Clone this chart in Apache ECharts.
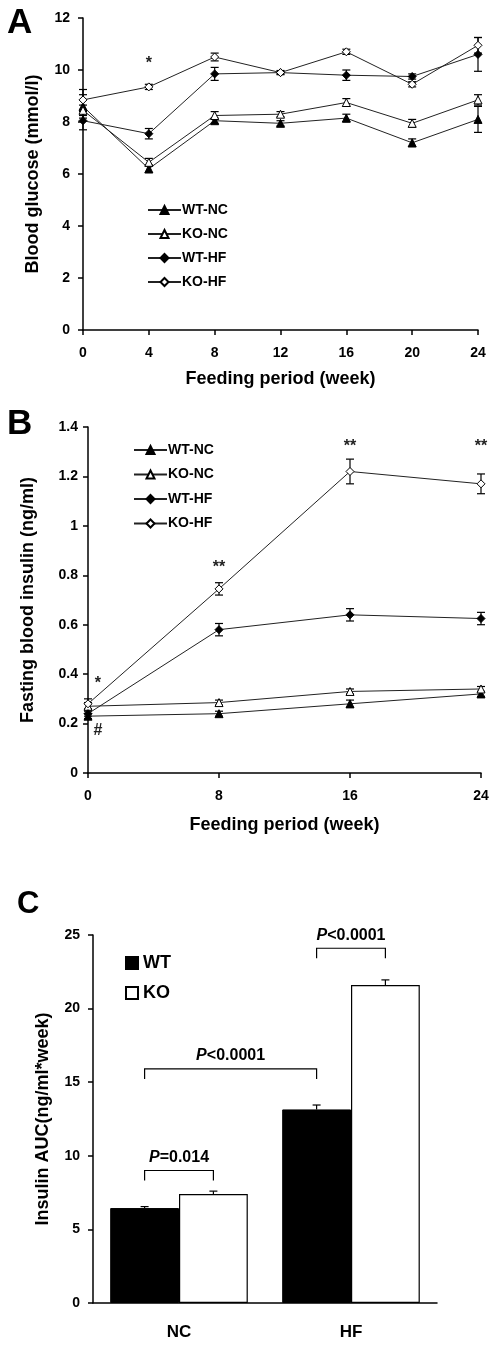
<!DOCTYPE html>
<html>
<head>
<meta charset="utf-8">
<script src="https://cdn.jsdelivr.net/npm/echarts@6/dist/echarts.min.js"></script>
<style>html,body{margin:0;padding:0;background:#fff}#c{width:498px;height:1345px}</style>
</head>
<body>
<div id="c"></div>
<script>
// ---------- Panel A: blood glucose ----------
const weeksA = [0, 4, 8, 12, 16, 20, 24];
const glucoseWTNC = [8.6, 6.2, 8.05, 7.95, 8.15, 7.2, 8.1];
const glucoseKONC = [8.45, 6.45, 8.25, 8.3, 8.75, 7.95, 8.85];
const glucoseWTHF = [8.05, 7.55, 9.85, 9.9, 9.8, 9.75, 10.6];
const glucoseKOHF = [8.85, 9.35, 10.5, 9.9, 10.7, 9.45, 10.95];
const glucoseErrWTNC = [0.45, 0.15, 0.1, 0.1, 0.15, 0.15, 0.5];
const glucoseErrKONC = [0.2, 0.15, 0.15, 0.1, 0.15, 0.15, 0.2];
const glucoseErrWTHF = [0.35, 0.2, 0.25, 0.08, 0.2, 0.1, 0.65];
const glucoseErrKOHF = [0.4, 0.1, 0.15, 0.05, 0.1, 0.1, 0.3];
const annotAX = [4];
const annotAY = [10.25];
const annotAText = ['*'];

// ---------- Panel B: fasting insulin ----------
const weeksB = [0, 8, 16, 24];
const insulinWTNC = [0.23, 0.24, 0.28, 0.32];
const insulinKONC = [0.27, 0.285, 0.33, 0.34];
const insulinWTHF = [0.24, 0.58, 0.64, 0.625];
const insulinKOHF = [0.28, 0.745, 1.22, 1.17];
const insulinErrWTNC = [0.01, 0.01, 0.015, 0.01];
const insulinErrKONC = [0.015, 0.01, 0.01, 0.01];
const insulinErrWTHF = [0.01, 0.025, 0.025, 0.025];
const insulinErrKOHF = [0.02, 0.025, 0.05, 0.04];
const annotBX = [0.6, 0.6, 8, 16, 24];
const annotBY = [0.36, 0.17, 0.83, 1.32, 1.32];
const annotBText = ['*', '#', '**', '**', '**'];

// ---------- Panel C: insulin AUC ----------
const groupsC = ['NC', 'HF'];
const aucWT = [6.45, 13.15];
const aucKO = [7.4, 21.6];
const aucErrWT = [0.1, 0.3];
const aucErrKO = [0.2, 0.35];
// brackets: [category, bar(0=WT,1=KO)] from -> to, height (value), label
const bracketFromCat = [0, 0, 1];
const bracketFromBar = [0, 0, 0];
const bracketToCat = [0, 1, 1];
const bracketToBar = [1, 0, 1];
const bracketY = [9.0, 15.9, 24.1];
const bracketP = ['=0.014', '<0.0001', '<0.0001'];

const seriesNames = ['WT-NC', 'KO-NC', 'WT-HF', 'KO-HF'];

const FONT = 'Liberation Sans, Arial, sans-serif';
const BAR_GAP_FRAC = 0.2;

const chart = echarts.init(document.getElementById('c'), null, {renderer: 'canvas'});

function pairs(xs, ys) { return xs.map((x, i) => [x, ys[i]]); }
function triples(xs, ys, es) { return xs.map((x, i) => [x, ys[i], es[i]]); }

function errRender(params, api) {
  const x = api.value(0), y = api.value(1), e = api.value(2);
  const top = api.coord([x, y + e]);
  const bot = api.coord([x, y - e]);
  const w = 4;
  const st = {stroke: '#000', lineWidth: 1.2};
  return {type: 'group', children: [
    {type: 'line', shape: {x1: top[0], y1: top[1], x2: bot[0], y2: bot[1]}, style: st},
    {type: 'line', shape: {x1: top[0] - w, y1: top[1], x2: top[0] + w, y2: top[1]}, style: st},
    {type: 'line', shape: {x1: bot[0] - w, y1: bot[1], x2: bot[0] + w, y2: bot[1]}, style: st}
  ]};
}

function textRender(texts, fontSize) {
  return function (params, api) {
    const p = api.coord([api.value(0), api.value(1)]);
    return {type: 'text', x: p[0], y: p[1], style: {
      text: texts[params.dataIndex], fill: '#222', font: 'bold ' + fontSize + 'px ' + FONT,
      align: 'center', verticalAlign: 'middle'}};
  };
}

const markerDefs = [
  {symbol: 'triangle', fill: '#000'},
  {symbol: 'triangle', fill: '#fff'},
  {symbol: 'diamond', fill: '#000'},
  {symbol: 'diamond', fill: '#fff'}
];

function lineSeries(name, data, idx, axisIdx) {
  const m = markerDefs[idx];
  return {
    type: 'line', name: name, data: data, xAxisIndex: axisIdx, yAxisIndex: axisIdx,
    symbol: m.symbol, symbolSize: 8, z: 3,
    itemStyle: {color: m.fill, borderColor: '#000', borderWidth: 1},
    lineStyle: {color: '#222', width: 1}
  };
}
function errSeries(data, axisIdx) {
  return {type: 'custom', renderItem: errRender, data: data, xAxisIndex: axisIdx, yAxisIndex: axisIdx,
    encode: {x: 0, y: 1}, z: 2, silent: true};
}

function barCenterX(api, cat, bar) {
  const c = api.coord([cat, 0]);
  const band = api.size([1, 0])[0];
  const bw = band * (1 - BAR_GAP_FRAC) / 2;
  return c[0] + (bar === 0 ? -bw / 2 : bw / 2);
}

function barErrRender(bar) {
  return function (params, api) {
    const cat = api.value(0), v = api.value(1), e = api.value(2);
    const x = barCenterX(api, cat, bar);
    const y0 = api.coord([cat, v])[1];
    const y1 = api.coord([cat, v + e])[1];
    const st = {stroke: '#000', lineWidth: 1.2};
    return {type: 'group', children: [
      {type: 'line', shape: {x1: x, y1: y0, x2: x, y2: y1}, style: st},
      {type: 'line', shape: {x1: x - 4, y1: y1, x2: x + 4, y2: y1}, style: st}
    ]};
  };
}

function bracketRender(params, api) {
  const i = params.dataIndex;
  const x1 = barCenterX(api, bracketFromCat[i], bracketFromBar[i]);
  const x2 = barCenterX(api, bracketToCat[i], bracketToBar[i]);
  const y = api.coord([0, bracketY[i]])[1];
  const drop = 10;
  return {type: 'group', children: [
    {type: 'polyline', shape: {points: [[x1, y + drop], [x1, y], [x2, y], [x2, y + drop]]},
      style: {stroke: '#000', lineWidth: 1.2, fill: null}},
    {type: 'text', x: (x1 + x2) / 2, y: y - 13, style: {
      text: '{i|P}' + bracketP[i], align: 'center', verticalAlign: 'middle',
      fill: '#000', font: 'bold 16px ' + FONT,
      rich: {i: {fontStyle: 'italic', fontWeight: 'bold', fontSize: 16, fontFamily: FONT, fill: '#000'}}}}
  ]};
}

const axisLineStyle = {show: true, lineStyle: {color: '#000', width: 1.5}};
const axisTickStyle = {show: true, inside: false, length: 5, lineStyle: {color: '#000', width: 1.5}};
const labelStyle = (margin) => ({fontSize: 14, fontWeight: 'bold', color: '#000', fontFamily: FONT, margin: margin});
const nameStyle = (size) => ({fontSize: size, fontWeight: 'bold', color: '#000', fontFamily: FONT});

const option = {
  animation: false,
  backgroundColor: '#fff',
  title: [
    {text: 'A', left: 2, top: 1, textStyle: {fontSize: 35, fontWeight: 'bold', color: '#000', fontFamily: FONT}},
    {text: 'B', left: 2, top: 402, textStyle: {fontSize: 35, fontWeight: 'bold', color: '#000', fontFamily: FONT}},
    {text: 'C', left: 12, top: 884, textStyle: {fontSize: 31, fontWeight: 'bold', color: '#000', fontFamily: FONT}}
  ],
  grid: [
    {left: 83, right: 20, top: 18, height: 312},
    {left: 88, right: 17, top: 427, height: 346},
    {left: 93, right: 61, top: 935, height: 368}
  ],
  legend: [
    {data: seriesNames, orient: 'vertical', left: 142, top: 198, itemWidth: 33, itemHeight: 10, itemGap: 10,
      textStyle: {fontSize: 14, fontWeight: 'bold', color: '#000', fontFamily: FONT, padding: [0, 0, 0, -4]}},
    {data: seriesNames, orient: 'vertical', left: 128, top: 438, itemWidth: 33, itemHeight: 10, itemGap: 10.5,
      textStyle: {fontSize: 14, fontWeight: 'bold', color: '#000', fontFamily: FONT, padding: [0, 0, 0, -4]}},
    {data: ['WT', 'KO'], orient: 'vertical', left: 120, top: 949, icon: 'rect', itemWidth: 12, itemHeight: 12, itemGap: 12,
      textStyle: {fontSize: 18, fontWeight: 'bold', color: '#000', fontFamily: FONT, padding: [0, 0, 0, 0]}}
  ],
  xAxis: [
    {type: 'value', gridIndex: 0, min: 0, max: 24, interval: 4, splitLine: {show: false},
      axisLine: axisLineStyle, axisTick: axisTickStyle, axisLabel: labelStyle(16),
      name: 'Feeding period (week)', nameLocation: 'middle', nameGap: 40, nameTextStyle: nameStyle(18)},
    {type: 'value', gridIndex: 1, min: 0, max: 24, interval: 8, splitLine: {show: false},
      axisLine: axisLineStyle, axisTick: axisTickStyle, axisLabel: labelStyle(16),
      name: 'Feeding period (week)', nameLocation: 'middle', nameGap: 43, nameTextStyle: nameStyle(18)},
    {type: 'category', gridIndex: 2, data: groupsC, splitLine: {show: false},
      axisLine: axisLineStyle, axisTick: {show: false},
      axisLabel: {fontSize: 17, fontWeight: 'bold', color: '#000', fontFamily: FONT, margin: 21}}
  ],
  yAxis: [
    {type: 'value', gridIndex: 0, min: 0, max: 12, interval: 2, splitLine: {show: false},
      axisLine: axisLineStyle, axisTick: axisTickStyle, axisLabel: labelStyle(13),
      name: 'Blood glucose (mmol/l)', nameLocation: 'middle', nameGap: 41, nameTextStyle: nameStyle(18)},
    {type: 'value', gridIndex: 1, min: 0, max: 1.4, interval: 0.2, splitLine: {show: false},
      axisLine: axisLineStyle, axisTick: axisTickStyle,
      axisLabel: Object.assign(labelStyle(10), {formatter: v => (Math.round(v * 10) / 10).toString()}),
      name: 'Fasting blood insulin (ng/ml)', nameLocation: 'middle', nameGap: 51, nameTextStyle: nameStyle(18)},
    {type: 'value', gridIndex: 2, min: 0, max: 25, interval: 5, splitLine: {show: false},
      axisLine: axisLineStyle, axisTick: axisTickStyle, axisLabel: labelStyle(13),
      name: 'Insulin AUC(ng/ml*week)', nameLocation: 'middle', nameGap: 41, nameTextStyle: nameStyle(18)}
  ],
  series: [
    errSeries(triples(weeksA, glucoseWTNC, glucoseErrWTNC), 0),
    errSeries(triples(weeksA, glucoseKONC, glucoseErrKONC), 0),
    errSeries(triples(weeksA, glucoseWTHF, glucoseErrWTHF), 0),
    errSeries(triples(weeksA, glucoseKOHF, glucoseErrKOHF), 0),
    lineSeries('WT-NC', pairs(weeksA, glucoseWTNC), 0, 0),
    lineSeries('KO-NC', pairs(weeksA, glucoseKONC), 1, 0),
    lineSeries('WT-HF', pairs(weeksA, glucoseWTHF), 2, 0),
    lineSeries('KO-HF', pairs(weeksA, glucoseKOHF), 3, 0),
    {type: 'custom', xAxisIndex: 0, yAxisIndex: 0, data: pairs(annotAX, annotAY), encode: {x: 0, y: 1},
      renderItem: textRender(annotAText, 16), silent: true},

    errSeries(triples(weeksB, insulinWTNC, insulinErrWTNC), 1),
    errSeries(triples(weeksB, insulinKONC, insulinErrKONC), 1),
    errSeries(triples(weeksB, insulinWTHF, insulinErrWTHF), 1),
    errSeries(triples(weeksB, insulinKOHF, insulinErrKOHF), 1),
    lineSeries('WT-NC', pairs(weeksB, insulinWTNC), 0, 1),
    lineSeries('KO-NC', pairs(weeksB, insulinKONC), 1, 1),
    lineSeries('WT-HF', pairs(weeksB, insulinWTHF), 2, 1),
    lineSeries('KO-HF', pairs(weeksB, insulinKOHF), 3, 1),
    {type: 'custom', xAxisIndex: 1, yAxisIndex: 1, data: pairs(annotBX, annotBY), encode: {x: 0, y: 1},
      renderItem: textRender(annotBText, 16), silent: true},

    {type: 'bar', name: 'WT', xAxisIndex: 2, yAxisIndex: 2, data: aucWT, barGap: '0%', barCategoryGap: '20%',
      itemStyle: {color: '#000', borderColor: '#000', borderWidth: 1}},
    {type: 'bar', name: 'KO', xAxisIndex: 2, yAxisIndex: 2, data: aucKO, barGap: '0%', barCategoryGap: '20%',
      itemStyle: {color: '#fff', borderColor: '#000', borderWidth: 1.2}},
    {type: 'custom', xAxisIndex: 2, yAxisIndex: 2, data: triples([0, 1], aucWT, aucErrWT), encode: {x: 0, y: 1},
      renderItem: barErrRender(0), z: 3, silent: true},
    {type: 'custom', xAxisIndex: 2, yAxisIndex: 2, data: triples([0, 1], aucKO, aucErrKO), encode: {x: 0, y: 1},
      renderItem: barErrRender(1), z: 3, silent: true},
    {type: 'custom', xAxisIndex: 2, yAxisIndex: 2, data: bracketY.map((y, i) => [bracketFromCat[i], y]),
      encode: {x: 0, y: 1}, renderItem: bracketRender, z: 3, silent: true}
  ]
};
chart.setOption(option);
</script>
</body>
</html>
